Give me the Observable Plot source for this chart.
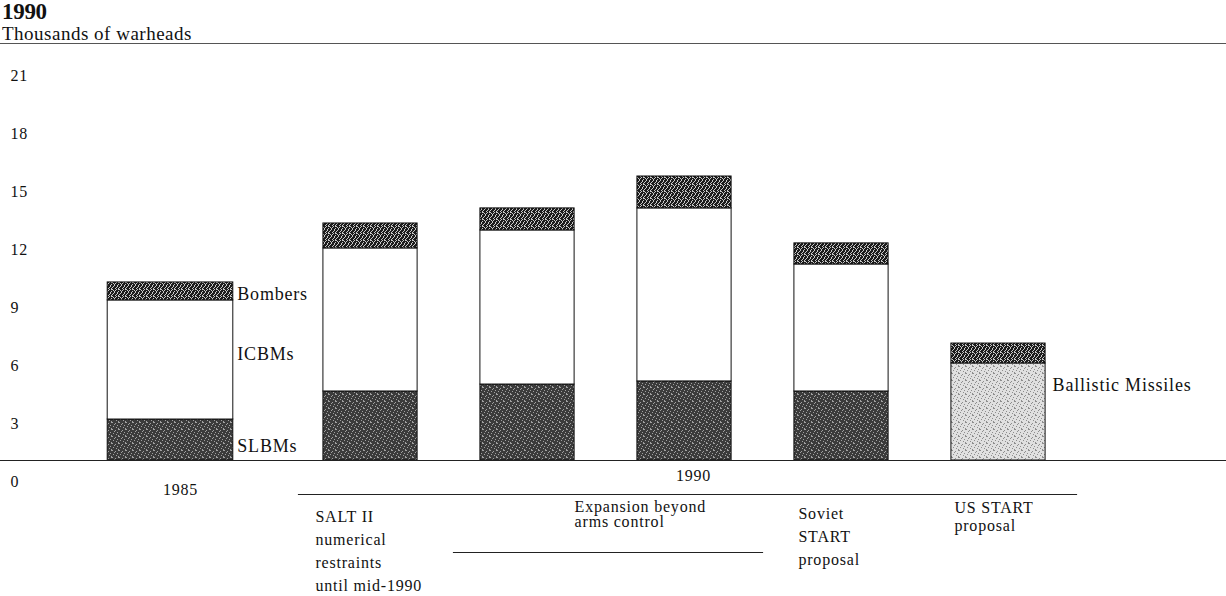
<!DOCTYPE html>
<html><head><meta charset="utf-8">
<script src="https://cdn.jsdelivr.net/npm/d3@7"></script>
<script src="https://cdn.jsdelivr.net/npm/@observablehq/plot@0.6"></script>
<style>
body{margin:0;background:#fff;font-family:"Liberation Serif","Times New Roman",serif;color:#111;width:1226px;height:596px;overflow:hidden}
#title{font-weight:bold;font-size:23px;line-height:24px;height:24px;padding-left:2px;letter-spacing:-0.3px}
#sub{font-size:19px;line-height:20px;height:19px;padding-left:2px;border-bottom:1px solid #555;letter-spacing:0.5px}
#chart svg text{letter-spacing:0.8px}
</style></head><body>
<div id="title">1990</div>
<div id="sub">Thousands of warheads</div>
<div id="chart"></div>
<script>
// ---- data (thousands of warheads) ----
const categories = ["1985", "SALT II", "Expansion A", "Expansion B", "Soviet START", "US START"];
const years      = ["1985", "1990", "1990", "1990", "1990", "1990"];
const series = ["SLBMs", "Ballistic Missiles", "ICBMs", "Bombers"];
const slbms     = [2.12, 3.57, 3.93, 4.09, 3.57, 0];
const ballistic = [0, 0, 0, 0, 0, 5.02];
const icbms     = [6.16, 7.40, 7.97, 8.95, 6.57, 0];
const bombers   = [0.93, 1.29, 1.14, 1.65, 1.09, 1.03];
const yTicks = [0, 3, 6, 9, 12, 15, 18, 21];
const groupText = {
  "1985": "1985",
  "SALT II": "SALT II\nnumerical\nrestraints\nuntil mid-1990",
  "Expansion A": "Expansion beyond\narms control",
  "Soviet START": "Soviet\nSTART\nproposal",
  "US START": "US START\nproposal"
};

// ---- ordinal layout: one slot per bar, extra gap between year groups ----
const yearOrder = [...new Set(years)];
const GAP = 0.274;
const pos = categories.map((c, i) => i + GAP * yearOrder.indexOf(years[i]));
const idx = c => pos[categories.indexOf(c)];
// the lone baseline-year bar is drawn wider than the projection bars
const halfOf = i => (years.filter(y => y === years[i]).length === 1 ? 0.40 : 0.30);
const half = 0.30;

// ---- build stacked segments ----
const valuesBySeries = {"SLBMs": slbms, "Ballistic Missiles": ballistic, "ICBMs": icbms, "Bombers": bombers};
const segs = [];
categories.forEach((c, i) => {
  let cum = 0;
  for (const s of series) {
    const v = valuesBySeries[s][i];
    if (v > 0) { segs.push({x: pos[i], h: halfOf(i), i, cat: c, series: s, y1: cum, y2: cum + v}); cum += v; }
  }
});
const fills = {"SLBMs": "url(#p-slbm)", "Ballistic Missiles": "url(#p-ball)", "ICBMs": "white", "Bombers": "url(#p-bomb)"};
const segOf = (c, s) => segs.find(d => d.cat === c && d.series === s);

const segLabelSpec = [
  {cat: "1985", series: "Bombers", dx: 4, dy: 3},
  {cat: "1985", series: "ICBMs", dx: 4, dy: -6},
  {cat: "1985", series: "SLBMs", dx: 4, dy: 6},
  {cat: "US START", series: "Ballistic Missiles", dx: 7, dy: -27}
];

const marks = [];
for (const s of series) {
  marks.push(Plot.rect(segs.filter(d => d.series === s), {
    x1: d => d.x - d.h, x2: d => d.x + d.h, y1: "y1", y2: "y2",
    fill: fills[s], stroke: "#111", strokeWidth: 1
  }));
}
marks.push(Plot.ruleY([0], {stroke: "#222", strokeWidth: 1.2}));

// y tick labels (printed slightly below their levels, as in the original)
marks.push(Plot.text(yTicks, {y: d => d, text: d => String(d), frameAnchor: "left", dx: 10, dy: 21, textAnchor: "start", fontSize: 16}));

// series labels beside bars
for (const L of segLabelSpec) {
  const sg = segOf(L.cat, L.series);
  marks.push(Plot.text([sg], {x: d => d.x + d.h, y: d => (d.y1 + d.y2) / 2, text: () => L.series,
    dx: L.dx, dy: L.dy, textAnchor: "start", fontSize: 18}));
}

// brackets under the axis
marks.push(Plot.ruleY([0], {x1: idx("SALT II") - half, x2: idx("US START") + half, dy: 34, insetLeft: -25, insetRight: -32, stroke: "#222", strokeWidth: 1}));
marks.push(Plot.ruleY([0], {x1: idx("Expansion A") - half, x2: idx("Expansion B") + half, dy: 92, insetLeft: -27, insetRight: -32, stroke: "#222", strokeWidth: 1}));
marks.push(Plot.text(["1990"], {x: idx("Expansion B"), y: 0, text: d => d, dx: 9, dy: 15, fontSize: 16}));

// category labels
const bottom = [
  {c: "1985", x: idx("1985"), dx: 10, dy: 29, anchor: "middle", lh: 1},
  {c: "SALT II", x: idx("SALT II") - half, dx: -8, dy: 88.5, anchor: "start", lh: 1.44},
  {c: "Expansion A", x: idx("Expansion A") + half, dx: 0, dy: 54.5, anchor: "start", lh: 0.95},
  {c: "Soviet START", x: idx("Soviet START") - half, dx: 4, dy: 74, anchor: "start", lh: 1.44},
  {c: "US START", x: idx("US START") - half, dx: 3, dy: 56, anchor: "start", lh: 1.13}
];
for (const B of bottom) {
  marks.push(Plot.text([groupText[B.c]], {x: B.x, y: 0, text: d => d, dx: B.dx, dy: B.dy,
    textAnchor: B.anchor, lineHeight: B.lh, fontSize: 16}));
}

const svg = Plot.plot({
  width: 1226, height: 551,
  marginLeft: 0, marginRight: 0, marginTop: 10, marginBottom: 135,
  x: {type: "linear", domain: [pos[0], pos[pos.length - 1]], range: [170, 998], axis: null},
  y: {domain: [0, 21], axis: null},
  style: {fontFamily: "'Liberation Serif', 'Times New Roman', serif", fontSize: "16px", color: "#111", background: "white"},
  marks
});

// textures
const defs = d3.select(svg).insert("defs", ":first-child");
function pattern(id, bg, fg, dots) {
  const p = defs.append("pattern").attr("id", id).attr("patternUnits", "userSpaceOnUse").attr("width", 7).attr("height", 7);
  p.append("rect").attr("width", 7).attr("height", 7).attr("fill", bg);
  for (const [x, y] of dots) p.append("rect").attr("x", x).attr("y", y).attr("width", 1).attr("height", 1).attr("fill", fg);
}
const dotsA = [[0,0],[3,1],[5,3],[1,4],[4,5],[6,6],[2,2],[6,0]];
const dotsB = [[1,1],[4,0],[2,3],[5,4],[0,5],[3,6],[6,2]];
pattern("p-slbm", "#3b3b3b", "#a0a0a0", dotsA);
pattern("p-bomb", "#1c1c1c", "#c8c8c8", dotsA.concat(dotsB));
pattern("p-ball", "#e0e0e0", "#8e8e8e", dotsA);

document.getElementById("chart").appendChild(svg);
</script>
</body></html>
